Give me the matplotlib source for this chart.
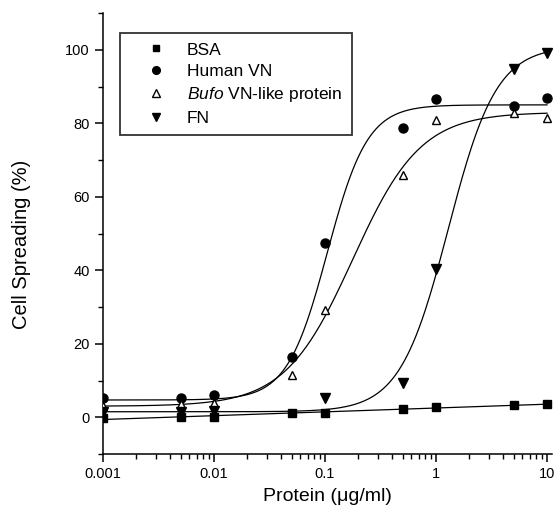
import numpy as np
import matplotlib
matplotlib.use("Agg")
import matplotlib.pyplot as plt
from matplotlib.ticker import FixedLocator, NullFormatter

plt.rcParams.update({
    "font.family": ["Liberation Sans", "DejaVu Sans"],
    "mathtext.fontset": "custom",
    "mathtext.rm": "Liberation Sans",
    "mathtext.it": "Liberation Sans:italic",
    "axes.linewidth": 1.1,
    "font.size": 10,
})

# protein concentration (ug/ml)
conc = np.array([0.001, 0.005, 0.01, 0.05, 0.1, 0.5, 1, 5, 10])

bsa = np.array([-0.3, 0.0, 0.2, 1.2, 1.2, 2.2, 2.8, 3.3, 3.5])
human_vn = np.array([5.2, 5.2, 6.0, 16.3, 47.5, 78.6, 86.6, 84.8, 86.8])
bufo_vn = np.array([3.2, 3.5, 3.8, 11.5, 29.3, 66.0, 80.8, 82.8, 81.4])
fn = np.array([1.5, 1.5, 1.8, np.nan, 5.2, 9.2, 40.4, 94.8, 99.2])

# fitted logistic curves: bottom, top, x0, power
fit_human = (4.7, 85.0, 0.105, 2.4)
fit_bufo = (3.0, 83.0, 0.178, 1.42)
fit_fn = (1.5, 101.0, 1.29, 2.0)


def logistic(x, a1, a2, x0, p):
    return a1 + (a2 - a1) / (1 + (x0 / x) ** p)


xs = np.logspace(-3, 1, 300)

fig = plt.figure(figsize=(5.58, 5.14), dpi=100)
ax = fig.add_axes([0.1846, 0.1167, 0.8047, 0.858])

# BSA: straight line in log(x)
k, b = np.polyfit(np.log10(conc), bsa, 1)
ax.plot(xs, k * np.log10(xs) + b, color="black", lw=0.9)
ax.plot(xs, logistic(xs, *fit_human), color="black", lw=0.9)
ax.plot(xs, logistic(xs, *fit_bufo), color="black", lw=0.9)
ax.plot(xs, logistic(xs, *fit_fn), color="black", lw=0.9)

ax.plot(conc, bsa, "s", color="black", ms=5.5, ls="none", label="BSA", zorder=4)
ax.plot(conc, human_vn, "o", color="black", ms=6.5, ls="none", label="Human VN", zorder=4)
ax.plot(conc, bufo_vn, "^", mfc="white", mec="black", mew=1.0, ms=6, ls="none",
        label="$\\it{Bufo}$ VN-like protein", zorder=4)
ax.plot(conc, fn, "v", color="black", ms=6.5, ls="none", label="FN", zorder=4)

ax.set_xscale("log")
ax.set_xlim(0.001, 11.1)
ax.set_ylim(-10, 110)

ax.set_xticks([0.001, 0.01, 0.1, 1, 10])
ax.set_xticklabels(["0.001", "0.01", "0.1", "1", "10"])
ax.set_yticks([0, 20, 40, 60, 80, 100])
ax.yaxis.set_minor_locator(FixedLocator([-10, 10, 30, 50, 70, 90, 110]))
ax.yaxis.set_minor_formatter(NullFormatter())

ax.spines["top"].set_visible(False)
ax.spines["right"].set_visible(False)
ax.tick_params(which="major", direction="out", length=6, width=1.1, labelsize=10.5)
ax.tick_params(which="minor", direction="out", length=3.5, width=1.0)

ax.set_xlabel("Protein (μg/ml)", fontsize=14)
ax.set_ylabel("Cell Spreading (%)", fontsize=14.5)
ax.xaxis.set_label_coords(0.5, -0.077)
ax.yaxis.set_label_coords(-0.16, 0.476)

leg = ax.legend(loc="upper left", bbox_to_anchor=(0.038, 0.955), frameon=True,
                fancybox=False, edgecolor="black", fontsize=12.5, handletextpad=0.3,
                labelspacing=0.36, borderpad=0.55, handlelength=3.0, borderaxespad=0,
                markerscale=0.85)
leg.get_frame().set_linewidth(1.3)

plt.savefig("out.png", dpi=100)
